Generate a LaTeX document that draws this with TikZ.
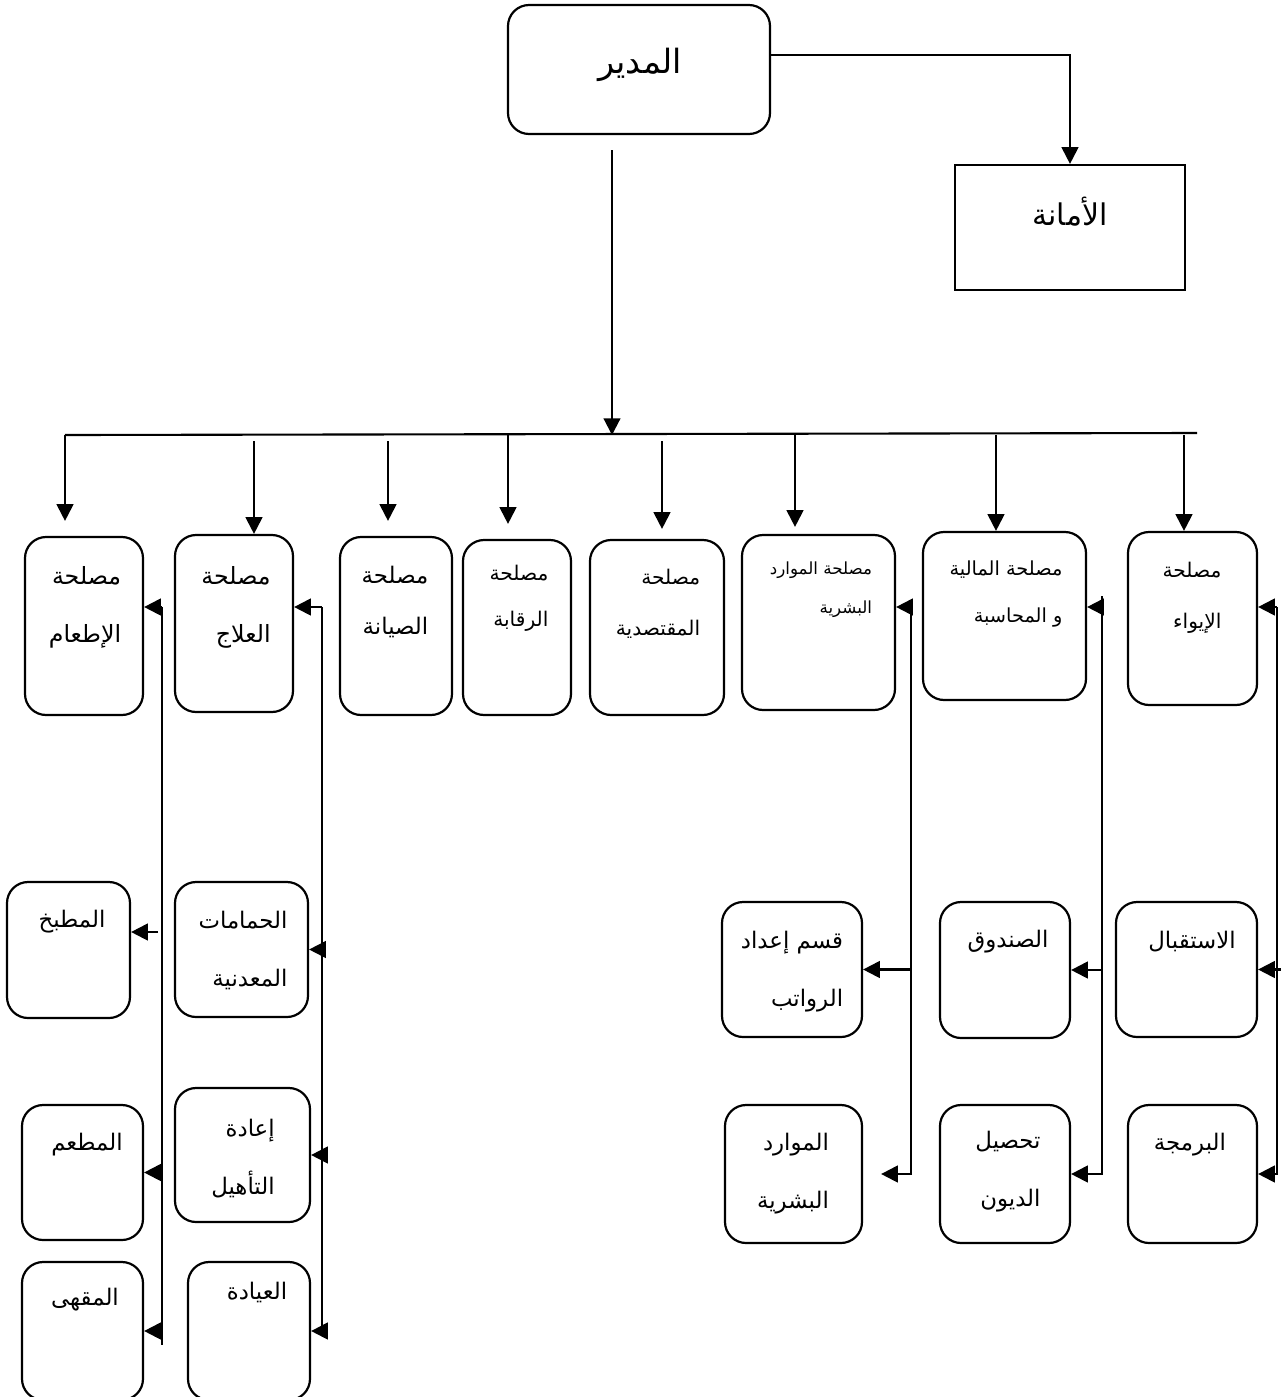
\documentclass[tikz,border=0pt]{standalone}
\usepackage{fontspec}
\newfontfamily\arabicfont[Script=Arabic]{DejaVu Sans}
\TeXXeTstate=1
\usetikzlibrary{arrows.meta, fit}

\tikzset{
  box/.style={draw, rounded corners=12pt, line width=1.25pt, inner sep=0pt},
  sqbox/.style={draw, line width=1.25pt, inner sep=0pt},
  txt/.style 2 args={align=right, inner sep=0pt, font=\arabicfont\fontsize{#1}{#2}\selectfont},
  arr/.style={line width=1.2pt, -{Triangle[length=9.5pt,width=9.5pt]}},
  link/.style={line width=1.2pt}
}

\begin{document}
\begin{tikzpicture}[x=0.02cm, y=-0.02cm]
\useasboundingbox (0,0) rectangle (1281,1397);

% director and secretariat
\node[box, fit={(508,5) (770,134)}] (mudir) {};
\node[txt={19}{22}] (mudir-t) at (640,65) {\beginR المدير\endR};
\node[sqbox, fit={(955,165) (1185,290)}] (amana) {};
\node[txt={17}{20}] (amana-t) at (1070,212) {\beginR الأمانة\endR};

% departments
\node[box, fit={(25,537) (143,715)}] (itam) {};
\node[box, fit={(175,535) (293,712)}] (ilaj) {};
\node[box, fit={(340,537) (452,715)}] (siyana) {};
\node[box, fit={(463,540) (571,715)}] (riqaba) {};
\node[box, fit={(590,540) (724,715)}] (iqtisad) {};
\node[box, fit={(742,535) (895,710)}] (hr) {};
\node[box, fit={(923,532) (1086,700)}] (maliya) {};
\node[box, fit={(1128,532) (1257,705)}] (iwa) {};
\node[txt={13.5}{33}] (itam-t) at (85,607) {\beginR مصلحة\endR\\\beginR الإطعام\endR};
\node[txt={13.5}{33}] (ilaj-t) at (236,607) {\beginR مصلحة\endR\\\beginR العلاج\endR};
\node[txt={13}{29}] (siyana-t) at (395,602) {\beginR مصلحة\endR\\\beginR الصيانة\endR};
\node[txt={11.5}{26}] (riqaba-t) at (519,598) {\beginR مصلحة\endR\\\beginR الرقابة\endR};
\node[txt={11.5}{29}] (iqtisad-t) at (658,604) {\beginR مصلحة\endR\\\beginR المقتصدية\endR};
\node[txt={9.5}{22}] (hr-t) at (821,590) {\beginR مصلحة الموارد\endR\\\beginR البشرية\endR};
\node[txt={11}{27}] (maliya-t) at (1006,594) {\beginR مصلحة المالية\endR\\\beginR و المحاسبة\endR};
\node[txt={11.5}{29}] (iwa-t) at (1192,598) {\beginR مصلحة\endR\\\beginR الإيواء\endR};

% sections
\node[box, fit={(7,882) (130,1018)}] (matbakh) {};
\node[box, fit={(22,1105) (143,1240)}] (mataam) {};
\node[box, fit={(22,1262) (143,1400)}] (maqha) {};
\node[box, fit={(175,882) (308,1017)}] (hammamat) {};
\node[box, fit={(175,1088) (310,1222)}] (taahil) {};
\node[box, fit={(188,1262) (310,1400)}] (iyada) {};
\node[box, fit={(722,902) (862,1037)}] (rawatib) {};
\node[box, fit={(725,1105) (862,1243)}] (mawarid) {};
\node[box, fit={(940,902) (1070,1038)}] (sunduq) {};
\node[box, fit={(940,1105) (1070,1243)}] (tahsil) {};
\node[box, fit={(1116,902) (1257,1037)}] (istiqbal) {};
\node[box, fit={(1128,1105) (1257,1243)}] (barmaja) {};
\node[txt={13}{33}] (matbakh-t) at (72,922) {\beginR المطبخ\endR};
\node[txt={13}{33}] (mataam-t) at (87,1145) {\beginR المطعم\endR};
\node[txt={13}{33}] (maqha-t) at (85,1300) {\beginR المقهى\endR};
\node[txt={13}{33}] (hammamat-t) at (243,950) {\beginR الحمامات\endR\\\beginR المعدنية\endR};
\node[txt={13}{33}] (taahil-t) at (243,1159) {\beginR إعادة\endR\\\beginR التأهيل\endR};
\node[txt={13}{33}] (iyada-t) at (257,1292) {\beginR العيادة\endR};
\node[txt={13}{33}] (rawatib-t) at (792,972) {\beginR قسم إعداد\endR\\\beginR الرواتب\endR};
\node[txt={13}{33}] (mawarid-t) at (793,1174) {\beginR الموارد\endR\\\beginR البشرية\endR};
\node[txt={13}{33}] (sunduq-t) at (1008,942) {\beginR الصندوق\endR};
\node[txt={13}{33}] (tahsil-t) at (1008,1172) {\beginR تحصيل\endR\\\beginR الديون\endR};
\node[txt={13}{33}] (istiqbal-t) at (1192,942) {\beginR الاستقبال\endR};
\node[txt={13}{33}] (barmaja-t) at (1190,1145) {\beginR البرمجة\endR};

% director links
\coordinate (drop) at (612,150);
\coordinate (barL) at (65,435);
\coordinate (barR) at (1197,433);
\draw[arr] ([yshift=0.29cm]mudir.east) -| (amana.north);
\draw[arr] (drop) -- (drop |- barL);
\draw[link] (barL) -- (barR);
\foreach \n/\dx/\gap/\s in {itam/-0.38/0/0.3, ilaj/0.4/0.12/0, siyana/-0.16/0.12/0.3,
    riqaba/-0.18/0/0.3, iqtisad/0.1/0.12/0.2, hr/-0.47/0/0.14, maliya/-0.17/0/0, iwa/-0.17/0/0}
  \draw[arr, shorten >=\s cm] ([xshift=\dx cm, yshift=-\gap cm]\n.north |- barL) -- ([xshift=\dx cm]\n.north);

% catering
\coordinate (itam-sp) at (162,607);
\coordinate (itam-end) at (162,1345);
\draw[arr] (itam-sp) -- (itam-sp -| itam.east);
\draw[link] (itam-sp) -- (itam-end);
\draw[arr] ([xshift=-0.08cm, yshift=0.36cm]itam-sp |- matbakh.east) -- ([yshift=0.36cm]matbakh.east);
\draw[arr] (itam-sp |- mataam.east) -- (mataam.east);
\draw[arr] (itam-sp |- maqha.east) -- (maqha.east);

% treatment
\coordinate (ilaj-sp) at (322,607);
\draw[arr] (ilaj-sp) -- (ilaj-sp -| ilaj.east);
\draw[arr] (ilaj-sp) |- (iyada.east);
\draw[arr] (ilaj-sp |- hammamat.east) -- (hammamat.east);
\draw[arr] (ilaj-sp |- taahil.east) -- (taahil.east);

% human resources
\coordinate (hr-sp) at (911,607);
\draw[arr] (hr-sp) -- (hr-sp -| hr.east);
\draw[arr, shorten >=0.36cm] (hr-sp) |- (mawarid.east);
\draw[arr] (hr-sp |- rawatib.east) -- (rawatib.east);

% finance
\coordinate (mal-top) at (1102,596);
\coordinate (mal-sp) at (1102,607);
\draw[arr] (mal-sp) -- (mal-sp -| maliya.east);
\draw[arr] (mal-top) |- (tahsil.east);
\draw[arr] (mal-sp |- sunduq.east) -- (sunduq.east);

% housing
\coordinate (iwa-sp) at (1277,607);
\draw[arr] (iwa-sp) -- (iwa-sp -| iwa.east);
\draw[arr] (iwa-sp) |- (barmaja.east);
\draw[arr] ([xshift=0.08cm]iwa-sp |- istiqbal.east) -- (istiqbal.east);
\end{tikzpicture}
\end{document}
